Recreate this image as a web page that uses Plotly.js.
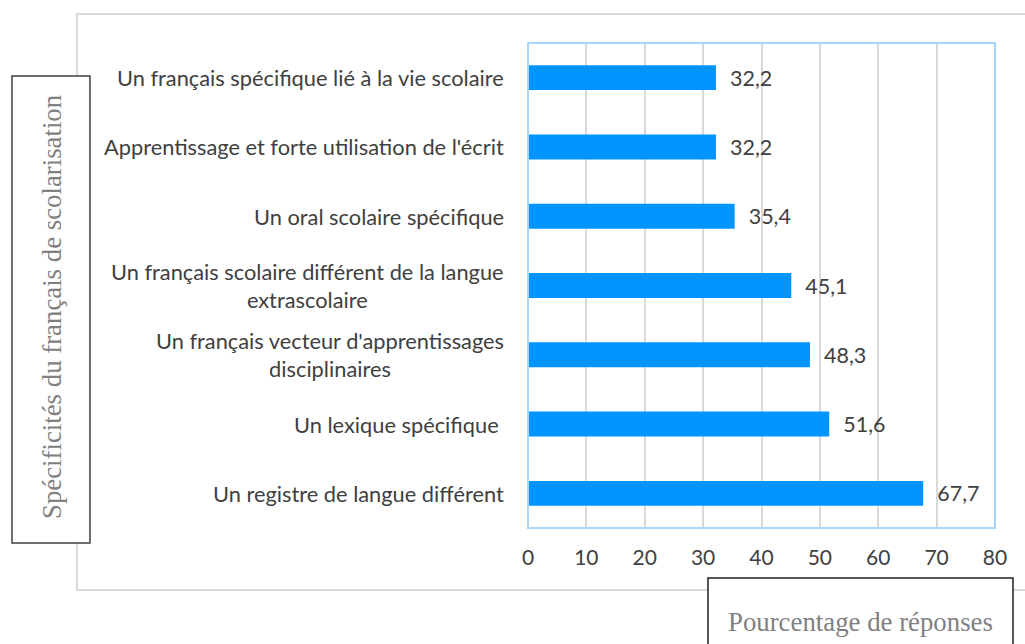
<!DOCTYPE html>
<html>
<head>
<meta charset="utf-8">
<script src="https://cdn.plot.ly/plotly-3.0.1.min.js"></script>
<style>html,body{margin:0;padding:0;background:#fff;}#chart{width:1025px;height:644px;}</style>
</head>
<body>
<div id="chart"></div>
<script>
// Data (top to bottom order)
var categories = [
  "Un français spécifique lié à la vie scolaire",
  "Apprentissage et forte utilisation de l'écrit",
  "Un oral scolaire spécifique",
  "Un français scolaire différent de la langue<br>extrascolaire",
  "Un français vecteur d'apprentissages<br>disciplinaires",
  "Un lexique spécifique ",
  "Un registre de langue différent"
];
var values = [32.2, 32.2, 35.4, 45.1, 48.3, 51.6, 67.7];
var tickValues = [0, 10, 20, 30, 40, 50, 60, 70, 80];
var yTitle = "Spécificités du français de scolarisation";
var xTitle = "Pourcentage de réponses";

var labels = values.map(function(v){ return v.toFixed(1).replace('.', ','); });
var ids = categories.map(function(c, i){ return 'c' + i; });

var sans = 'Lato, "Open Sans", sans-serif';
var serif = '"Liberation Serif", "Times New Roman", serif';
var textColor = '#404040';

var trace = {
  type: 'bar',
  orientation: 'h',
  y: ids,
  x: values,
  text: labels,
  texttemplate: '\u00a0\u00a0%{text}',
  textposition: 'outside',
  constraintext: 'none',
  cliponaxis: false,
  textfont: {family: sans, size: 21.5, color: textColor},
  marker: {color: '#0094ff'},
  width: 0.36,
  hoverinfo: 'x'
};

var annotations = categories.map(function(c, i){
  return {
    xref: 'paper', yref: 'y', x: 0, y: ids[i],
    xanchor: 'right', yanchor: 'middle', xshift: -22,
    text: c, showarrow: false, align: 'center',
    font: {family: sans, size: 21.8, color: textColor}
  };
});
annotations.push({
  xref: 'paper', yref: 'paper', x: -1.019, y: 0.456,
  text: yTitle, textangle: -90, showarrow: false,
  xanchor: 'center', yanchor: 'middle',
  font: {family: serif, size: 26.8, color: '#808080'}
});
annotations.push({
  xref: 'paper', yref: 'paper', x: 0.712, y: -0.193,
  text: xTitle, showarrow: false,
  xanchor: 'center', yanchor: 'middle',
  font: {family: serif, size: 26.8, color: '#808080'}
});

var layout = {
  width: 1025, height: 644,
  margin: {l: 528, r: 30, t: 43, b: 116},
  paper_bgcolor: '#ffffff', plot_bgcolor: '#ffffff',
  showlegend: false,
  xaxis: {
    range: [0, 80], tickvals: tickValues, ticktext: tickValues.map(String),
    showgrid: true, gridcolor: '#d9d9d9', gridwidth: 2,
    zeroline: false, showline: false, ticks: '',
    ticklabelstandoff: 15,
    tickfont: {family: sans, size: 21, color: textColor},
    fixedrange: true
  },
  yaxis: {
    type: 'category', autorange: 'reversed',
    showticklabels: false, showgrid: false, zeroline: false, ticks: '',
    fixedrange: true
  },
  shapes: [
    {type: 'rect', xref: 'paper', yref: 'paper', x0: -0.9657, x1: 1.12, y0: -0.1278, y1: 1.0598,
     line: {color: '#d9d9d9', width: 2}, fillcolor: 'rgba(0,0,0,0)', layer: 'below'},
    {type: 'rect', xref: 'paper', yref: 'paper', x0: 0, x1: 1, y0: 0, y1: 1,
     line: {color: '#a9d6f8', width: 2}, fillcolor: 'rgba(0,0,0,0)', layer: 'above'},
    {type: 'rect', xref: 'paper', yref: 'paper', x0: -1.105, x1: -0.938, y0: -0.0309, y1: 0.932,
     line: {color: '#404040', width: 1.5}, fillcolor: '#ffffff', layer: 'above'},
    {type: 'rect', xref: 'paper', yref: 'paper', x0: 0.3854, x1: 1.0385, y0: -0.252, y1: -0.103,
     line: {color: '#202020', width: 1.5}, fillcolor: '#ffffff', layer: 'above'}
  ],
  annotations: annotations
};

Plotly.newPlot('chart', [trace], layout, {displayModeBar: false, staticPlot: true});
</script>
</body>
</html>
